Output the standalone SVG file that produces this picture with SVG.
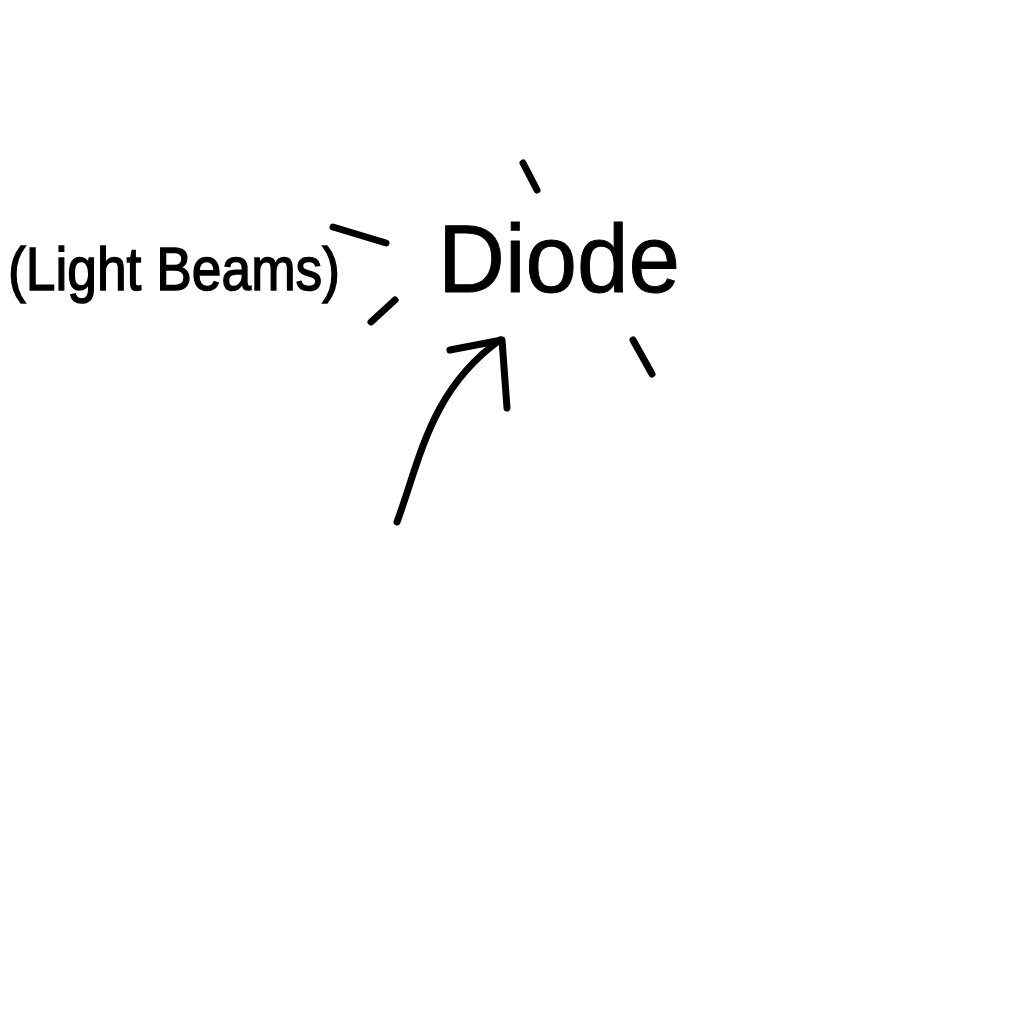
<svg xmlns="http://www.w3.org/2000/svg" width="1024" height="1024" viewBox="0 0 1024 1024">
<style>
.ink{fill:none;stroke:#000;stroke-width:7;stroke-linecap:round;stroke-linejoin:round}
.lbl{font-family:"Liberation Sans",Arial,sans-serif;fill:#000;stroke:#000;stroke-width:1.5}
</style>
<rect width="1024" height="1024" fill="#fff"/>
<g id="light-beams">
<text class="lbl" x="8" y="290" font-size="62" textLength="332" lengthAdjust="spacingAndGlyphs">(Light Beams)</text>
</g>
<g id="diode">
<text class="lbl" x="438" y="292" font-size="96" textLength="242" lengthAdjust="spacingAndGlyphs" style="stroke-width:1">Diode</text>
<path class="ink" d="M333,227 L386,243"/>
<path class="ink" d="M371,322 L395,300"/>
<path class="ink" d="M523,163 L537,190"/>
<path class="ink" d="M633,340 L652,374"/>
</g>
<g id="connectors">
<path class="ink" d="M397,522 C420,460 430,390 500,340"/>
<path class="ink" d="M450,350 L502,340 L507,408"/>
</g>
</svg>
